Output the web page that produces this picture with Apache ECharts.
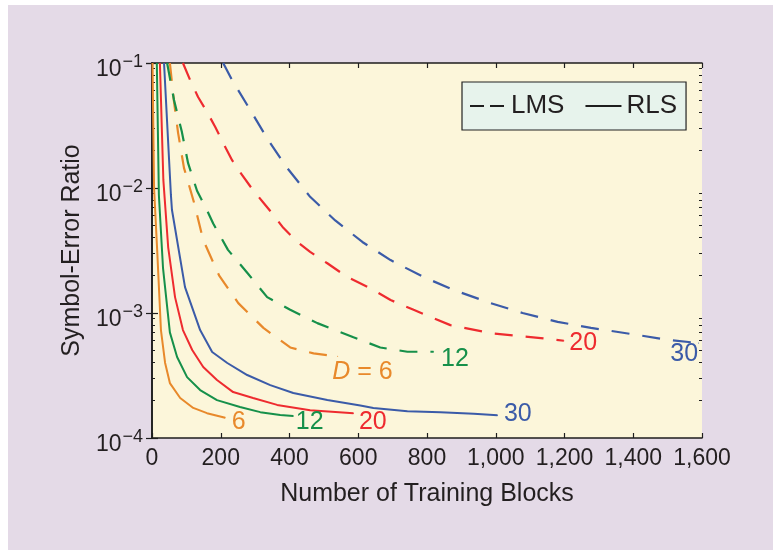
<!DOCTYPE html>
<html><head><meta charset="utf-8">
<script src="https://cdn.jsdelivr.net/npm/echarts@6/dist/echarts.min.js"></script>
<style>
html,body{margin:0;padding:0;background:#fff}
#wrap{position:relative;width:773px;height:550px;background:#fff;overflow:hidden}
#bg{position:absolute;left:8px;top:5px;right:0;bottom:0;background:#e4dae7}
#chart{position:absolute;left:0;top:0;width:773px;height:550px}
</style></head><body>
<div id="wrap"><div id="bg"></div><div id="chart"></div></div>
<script>
// ---- data (x = number of training blocks, y = symbol-error ratio) ----
const xTicks = [0, 200, 400, 600, 800, 1000, 1200, 1400, 1600];
const yDecades = [1e-4, 1e-3, 1e-2, 1e-1];

const rlsD6 = [[1.5,0.1],[6,0.01],[15,3.2e-3],[26,7.3e-4],[38,4.0e-4],[52,2.75e-4],[82,2.09e-4],[120,1.74e-4],[160,1.58e-4],[213,1.45e-4]];
const rlsD12 = [[14,0.1],[20,8.8e-3],[32,2.3e-3],[52,7.0e-4],[73,4.45e-4],[102,3.07e-4],[140,2.42e-4],[189,2.01e-4],[256,1.77e-4],[315,1.61e-4],[373,1.53e-4],[411,1.50e-4]];
const rlsD20 = [[23,0.1],[33,0.0116],[47,3.37e-3],[67,1.34e-3],[90,7.3e-4],[117,5.06e-4],[149,3.7e-4],[189,2.91e-4],[236,2.33e-4],[294,2.09e-4],[364,1.84e-4],[460,1.67e-4],[586,1.58e-4]];
const rlsD30 = [[35,0.1],[55,8.8e-3],[58,6.7e-3],[96,1.61e-3],[140,7.3e-4],[175,4.87e-4],[219,3.98e-4],[277,3.19e-4],[344,2.65e-4],[411,2.29e-4],[510,2.01e-4],[606,1.82e-4],[644,1.74e-4],[743,1.64e-4],[839,1.61e-4],[936,1.56e-4],[1005,1.52e-4]];

const lmsD6 = [[52,0.1],[64,0.049],[76,0.0275],[93,0.0145],[122,7.7e-3],[149,3.84e-3],[195,2.0e-3],[251,1.2e-3],[324,7.6e-4],[402,5.3e-4],[470,4.75e-4],[540,4.5e-4]];
const lmsD12 = [[44,0.1],[64,0.0506],[87,0.028],[105,0.0158],[131,9.5e-3],[157,6.9e-3],[178,5.2e-3],[221,3.2e-3],[280,2.05e-3],[335,1.34e-3],[402,1.06e-3],[481,8.3e-4],[586,6.4e-4],[664,5.3e-4],[743,4.9e-4],[819,4.9e-4]];
const lmsD20 = [[90,0.1],[111,0.073],[134,0.0535],[160,0.0406],[184,0.0308],[207,0.0229],[233,0.0167],[256,0.0134],[294,9.6e-3],[323,7.7e-3],[353,6.1e-3],[382,4.8e-3],[423,3.7e-3],[460,3.08e-3],[510,2.5e-3],[568,1.94e-3],[635,1.58e-3],[694,1.27e-3],[761,1.06e-3],[819,9.1e-4],[868,8.0e-4],[985,6.9e-4],[1131,6.3e-4],[1198,6.0e-4]];
const lmsD30 = [[207,0.1],[233,0.073],[286,0.042],[338,0.0242],[393,0.0145],[460,8.5e-3],[533,5.5e-3],[612,3.7e-3],[694,2.65e-3],[790,1.94e-3],[877,1.53e-3],[985,1.2e-3],[1078,1.0e-3],[1180,8.5e-4],[1277,7.6e-4],[1393,6.8e-4],[1501,6.1e-4],[1590,5.75e-4]];

const curveLabels = { rlsD6:'6', rlsD12:'12', rlsD20:'20', rlsD30:'30', lmsD6:'{i|D} = 6', lmsD12:'12', lmsD20:'20', lmsD30:'30' };

// minor log ticks (2..9 x 10^k)
const yMinorTicks = [];
for (let k = -4; k <= -2; k++) for (let m = 2; m <= 9; m++) yMinorTicks.push(m * Math.pow(10, k));

// ---- styling ----
const FONT = "'Liberation Sans', Arial, Helvetica, sans-serif";
const TXT = '#231f20';
const AX = '#1e1e1e';
const C = { orange:'#e8892b', green:'#16904a', red:'#ee2b2f', blue:'#3b5ba8' };
const DASH = [18, 13];

function curve(name, data, color, dashed, text, lab) {
  const n = data.length;
  return {
    type: 'line', name: name, silent: true, animation: false,
    symbol: 'circle', symbolSize: 1, showSymbol: true, showAllSymbol: true,
    itemStyle: { color: color },
    lineStyle: { color: color, width: dashed ? 2.2 : 2, type: dashed ? DASH : 'solid', cap: 'butt' },
    emphasis: { disabled: true },
    data: data.map((p, i) => i === n - 1 ? {
      value: p,
      label: Object.assign({
        show: true, formatter: text, color: color, fontSize: 25, fontFamily: FONT,
        rich: { i: { fontStyle: 'italic', fontSize: 25, color: color, fontFamily: FONT } }
      }, lab)
    } : { value: p, symbol: 'none' })
  };
}

const series = [
  curve('LMS D6', lmsD6, C.orange, true, curveLabels.lmsD6, { position: 'right', distance: 0, offset: [-6, 16] }),
  curve('LMS D12', lmsD12, C.green, true, curveLabels.lmsD12, { position: 'right', distance: 7, offset: [0, 7] }),
  curve('LMS D20', lmsD20, C.red, true, curveLabels.lmsD20, { position: 'right', distance: 5, offset: [0, 2] }),
  curve('LMS D30', lmsD30, C.blue, true, curveLabels.lmsD30, { position: 'left', distance: 0, offset: [0, 11] }),
  curve('RLS D6', rlsD6, C.orange, false, curveLabels.rlsD6, { position: 'right', distance: 6, offset: [0, 4] }),
  curve('RLS D12', rlsD12, C.green, false, curveLabels.rlsD12, { position: 'right', distance: 2, offset: [0, 6] }),
  curve('RLS D20', rlsD20, C.red, false, curveLabels.rlsD20, { position: 'right', distance: 5, offset: [0, 9] }),
  curve('RLS D30', rlsD30, C.blue, false, curveLabels.rlsD30, { position: 'right', distance: 6, offset: [0, -1] }),
  { type: 'line', name: 'LMS', data: [], symbol: 'none', lineStyle: { color: '#1e1e1e', width: 2, type: [14, 6] }, itemStyle: { color: '#1e1e1e' } },
  { type: 'line', name: 'RLS', data: [], symbol: 'none', lineStyle: { color: '#1e1e1e', width: 2, type: 'solid' }, itemStyle: { color: '#1e1e1e' } }
];

const axLine = { show: true, lineStyle: { color: AX, width: 1.6 } };
const yMin = yDecades[0], yMax = yDecades[yDecades.length - 1];

const option = {
  backgroundColor: 'transparent',
  animation: false,
  textStyle: { fontFamily: FONT },
  grid: { left: 152, right: 71, top: 63, bottom: 112, show: true, backgroundColor: '#fcf6da', borderWidth: 0 },
  legend: {
    left: 462, top: 82, orient: 'horizontal', selectedMode: false,
    data: [
      { name: 'LMS', itemStyle: { opacity: 0 }, lineStyle: { type: [14, 6], opacity: 1 } },
      { name: 'RLS', itemStyle: { opacity: 0 }, lineStyle: { opacity: 1 } }
    ],
    itemWidth: 36, itemHeight: 14, itemGap: 20,
    textStyle: { fontSize: 26, color: TXT, fontFamily: FONT },
    backgroundColor: '#e7f3ec', borderColor: '#222', borderWidth: 1.2,
    padding: [11, 9, 11, 7]
  },
  xAxis: [
    { type: 'value', position: 'bottom', min: xTicks[0], max: xTicks[xTicks.length - 1], interval: xTicks[1] - xTicks[0],
      axisLine: axLine, splitLine: { show: false },
      axisTick: { show: true, inside: true, length: 5, lineStyle: { color: AX, width: 1.2 } },
      axisLabel: { show: true, color: TXT, fontSize: 23, fontFamily: FONT, margin: 9,
        formatter: v => Number(v).toLocaleString('en-US') },
      name: 'Number of Training Blocks', nameLocation: 'middle', nameGap: 44,
      nameTextStyle: { fontSize: 25, color: TXT, fontFamily: FONT } },
    { type: 'value', position: 'top', min: xTicks[0], max: xTicks[xTicks.length - 1], interval: xTicks[1] - xTicks[0],
      axisLine: axLine, splitLine: { show: false }, axisLabel: { show: false },
      axisTick: { show: true, inside: true, length: 5, lineStyle: { color: AX, width: 1.2 } } }
  ],
  yAxis: [
    { type: 'log', logBase: 10, position: 'left', min: yMin, max: yMax,
      axisLine: axLine, splitLine: { show: false }, minorTick: { show: false },
      axisTick: { show: true, inside: true, length: 6, lineStyle: { color: AX, width: 1.2 } },
      axisLabel: { show: true, color: TXT, margin: 9, fontFamily: FONT,
        formatter: v => '{b|10}{s|\u2212' + (-Math.round(Math.log10(v))) + '}',
        rich: {
          b: { fontSize: 23, color: TXT, fontFamily: FONT, lineHeight: 23, padding: [14, 0, 0, 0] },
          s: { fontSize: 18, color: TXT, fontFamily: FONT, lineHeight: 18, padding: [0, 0, 2, 1] }
        } },
      name: 'Symbol-Error Ratio', nameLocation: 'middle', nameGap: 67,
      nameTextStyle: { fontSize: 25, color: TXT, fontFamily: FONT } },
    { type: 'log', logBase: 10, position: 'right', min: yMin, max: yMax,
      axisLine: axLine, splitLine: { show: false }, axisLabel: { show: false },
      axisTick: { show: true, inside: true, length: 6, lineStyle: { color: AX, width: 1.2 } } },
    { type: 'log', logBase: 10, position: 'left', min: yMin, max: yMax,
      axisLine: { show: false }, splitLine: { show: false }, axisLabel: { show: false },
      axisTick: { show: true, inside: true, length: 3, customValues: yMinorTicks, lineStyle: { color: AX, width: 1 } } },
    { type: 'log', logBase: 10, position: 'right', min: yMin, max: yMax,
      axisLine: { show: false }, splitLine: { show: false }, axisLabel: { show: false },
      axisTick: { show: true, inside: true, length: 3, customValues: yMinorTicks, lineStyle: { color: AX, width: 1 } } }
  ],
  series: series
};

const chart = echarts.init(document.getElementById('chart'), null, { renderer: 'canvas' });
chart.setOption(option);
</script>
</body></html>
